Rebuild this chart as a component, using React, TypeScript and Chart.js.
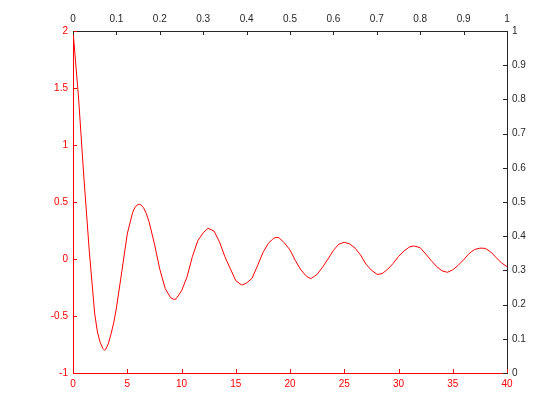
import React, { useEffect, useRef } from "react";
import { Chart, registerables } from "chart.js";

Chart.register(...registerables);

const tValues = [
  0, 0.5, 1, 1.5, 2, 2.25, 2.5, 2.75, 2.9, 3, 3.25, 3.5, 3.75, 4, 4.5, 5, 5.5, 5.75, 6, 6.1, 6.25, 6.5, 6.75, 7, 7.5, 8, 8.5, 9, 9.3, 9.5,
  10, 10.5, 11, 11.5, 12, 12.45, 12.5, 13, 13.5, 14, 14.5, 15, 15.5, 15.6, 16, 16.5, 17, 17.5, 18, 18.5, 18.8, 19, 19.5,
  20, 20.5, 21, 21.5, 21.85, 22, 22.5, 23, 23.5, 24, 24.5, 25, 25.05, 25.5, 26, 26.5, 27, 27.5, 28, 28.2, 28.5, 29, 29.5,
  30, 30.5, 31, 31.35, 31.5, 32, 32.5, 33, 33.5, 34, 34.5, 35, 35.5, 36, 36.5, 37, 37.5, 37.7, 38, 38.5, 39, 39.5,
  40,
];

const yValues = [
  2.0, 1.43, 0.72, 0.07, -0.48, -0.64, -0.73, -0.785, -0.8, -0.795, -0.745, -0.66, -0.56, -0.43, -0.11, 0.22, 0.41, 0.46, 0.478, 0.48, 0.476, 0.45, 0.40, 0.33, 0.135, -0.09, -0.26, -0.34, -0.355, -0.35,
  -0.28, -0.16, 0.02, 0.16, 0.23, 0.27, 0.27, 0.245, 0.15, 0.02, -0.085, -0.19, -0.225, -0.228, -0.21, -0.17, -0.06, 0.055, 0.137, 0.183, 0.19, 0.185, 0.14,
  0.079, -0.015, -0.095, -0.15, -0.17, -0.168, -0.135, -0.072, 0.0, 0.075, 0.13, 0.146, 0.146, 0.132, 0.095, 0.035, -0.045, -0.098, -0.133, -0.134, -0.128, -0.09, -0.04,
  0.022, 0.07, 0.105, 0.114, 0.113, 0.099, 0.045, -0.012, -0.065, -0.103, -0.117, -0.095, -0.055, -0.007, 0.047, 0.083, 0.095, 0.095, 0.093, 0.062, 0.013, -0.035,
  -0.067,
];

const bottomRange = [0, 40];
const bottomStep = 5;
const leftRange = [-1, 2];
const leftStep = 0.5;
const topRange = [0, 1];
const topStep = 0.1;
const rightRange = [0, 1];
const rightStep = 0.1;

const RED = "#ff0000";
const DARK = "#262626";
const FONT = { family: "'Liberation Sans', Arial, sans-serif", size: 10 };

const fmt = (v: any) => String(Number(Number(v).toFixed(2)));

const inwardTicks = {
  id: "inwardTicks",
  afterDatasetsDraw(chart: any) {
    const ctx = chart.ctx;
    const ca = chart.chartArea;
    const len = 4;
    ctx.save();
    ctx.lineWidth = 1;
    Object.values(chart.scales).forEach((scale: any) => {
      const color = scale.options.border.color;
      ctx.strokeStyle = color;
      scale.ticks.forEach((_t: any, i: number) => {
        const p = Math.round(scale.getPixelForTick(i)) + 0.5;
        ctx.beginPath();
        if (scale.position === "left") {
          ctx.moveTo(ca.left, p);
          ctx.lineTo(ca.left + len, p);
        } else if (scale.position === "right") {
          ctx.moveTo(ca.right, p);
          ctx.lineTo(ca.right - len, p);
        } else if (scale.position === "top") {
          ctx.moveTo(p, ca.top);
          ctx.lineTo(p, ca.top + len);
        } else {
          ctx.moveTo(p, ca.bottom);
          ctx.lineTo(p, ca.bottom - len);
        }
        ctx.stroke();
      });
    });
    ctx.restore();
  },
};

export default function App() {
  const ref = useRef<HTMLCanvasElement | null>(null);

  useEffect(() => {
    if (!ref.current) return;
    const data = tValues.map((t, i) => ({ x: t, y: yValues[i] }));
    const chart = new Chart(ref.current, {
      type: "line",
      data: {
        datasets: [
          {
            data,
            borderColor: RED,
            borderWidth: 1,
            pointRadius: 0,
            tension: 0,
            fill: false,
            xAxisID: "x",
            yAxisID: "y",
          },
        ],
      },
      options: {
        animation: false,
        responsive: false,
        maintainAspectRatio: false,
        layout: { padding: 0 },
        plugins: { legend: { display: false }, tooltip: { enabled: false } },
        scales: {
          x: {
            type: "linear",
            position: "bottom",
            min: bottomRange[0],
            max: bottomRange[1],
            afterFit: (s: any) => { s.height = 47; },
            afterBuildTicks: (s: any) => {
              const arr = [];
              for (let v = bottomRange[0]; v <= bottomRange[1] + 1e-9; v += bottomStep) arr.push({ value: v });
              s.ticks = arr;
            },
            grid: { display: true, drawOnChartArea: false, drawTicks: false },
            border: { display: true, color: RED, width: 1 },
            ticks: { color: RED, font: FONT, padding: 5, maxRotation: 0, autoSkip: false, callback: fmt },
          },
          y: {
            type: "linear",
            position: "left",
            min: leftRange[0],
            max: leftRange[1],
            afterFit: (s: any) => { s.width = 73; },
            afterBuildTicks: (s: any) => {
              const arr = [];
              for (let v = leftRange[0]; v <= leftRange[1] + 1e-9; v += leftStep) arr.push({ value: Math.round(v * 10) / 10 });
              s.ticks = arr;
            },
            grid: { display: true, drawOnChartArea: false, drawTicks: false },
            border: { display: true, color: RED, width: 1 },
            ticks: { color: RED, font: FONT, padding: 5, autoSkip: false, callback: fmt },
          },
          x2: {
            type: "linear",
            position: "top",
            min: topRange[0],
            max: topRange[1],
            afterFit: (s: any) => { s.height = 31; },
            afterBuildTicks: (s: any) => {
              const arr = [];
              for (let i = 0; i <= 10; i++) arr.push({ value: Math.round((topRange[0] + i * topStep) * 10) / 10 });
              s.ticks = arr;
            },
            grid: { display: true, drawOnChartArea: false, drawTicks: false },
            border: { display: true, color: DARK, width: 1 },
            ticks: { color: DARK, font: FONT, padding: 6, maxRotation: 0, autoSkip: false, callback: fmt },
          },
          y2: {
            type: "linear",
            position: "right",
            min: rightRange[0],
            max: rightRange[1],
            afterFit: (s: any) => { s.width = 53; },
            afterBuildTicks: (s: any) => {
              const arr = [];
              for (let i = 0; i <= 10; i++) arr.push({ value: Math.round((rightRange[0] + i * rightStep) * 10) / 10 });
              s.ticks = arr;
            },
            grid: { display: true, drawOnChartArea: false, drawTicks: false },
            border: { display: true, color: DARK, width: 1 },
            ticks: { color: DARK, font: FONT, padding: 5, autoSkip: false, callback: fmt },
          },
        },
      },
      plugins: [inwardTicks],
    });
    return () => chart.destroy();
  }, []);

  return (
    <div style={{ position: "fixed", left: 0, top: 0, width: 560, height: 420, background: "#fff" }}>
      <canvas ref={ref} width={560} height={420} style={{ width: 560, height: 420 }} />
    </div>
  );
}
